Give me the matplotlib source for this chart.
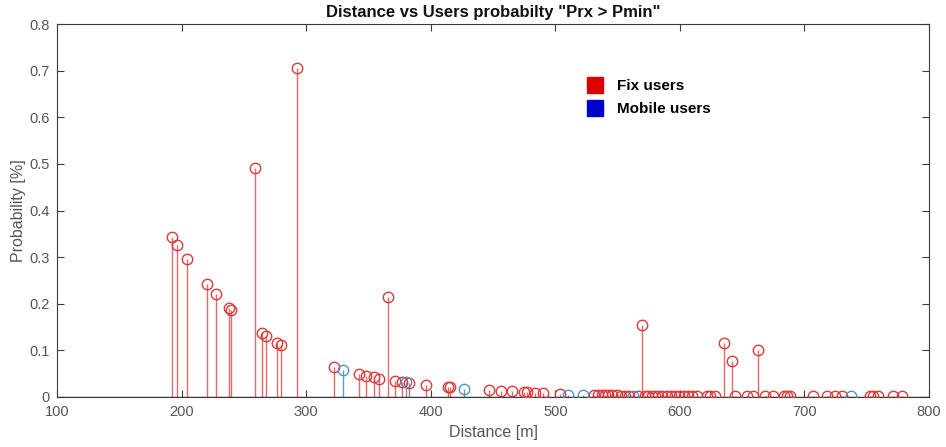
import matplotlib
matplotlib.use("Agg")
import matplotlib.pyplot as plt
from matplotlib.lines import Line2D

plt.rcParams['font.family'] = ['Liberation Sans', 'DejaVu Sans']

# Fixed users: distance [m] and probability
fix_dist = [192.1, 196.6, 204.1, 220.2, 227.4, 238.3, 239.9, 259.0, 264.8, 268.0,
            276.4, 280.0, 292.7, 322.4, 342.2, 347.8, 354.5, 358.7, 366.0, 371.1,
            377.0, 382.6, 396.2, 414.1, 415.5, 446.8, 456.3, 465.5, 475.0, 477.0,
            483.7, 490.4, 503.8, 531.3, 534.5, 537.2, 539.9, 542.5, 545.7, 549.3,
            552.8, 556.0, 559.2, 566.2, 569.4, 572.0, 574.7, 577.4, 580.0, 582.7,
            585.4, 589.4, 592.9, 596.1, 599.3, 603.6, 606.8, 609.5, 613.5, 621.6,
            624.2, 628.2, 635.5, 641.6, 644.3, 653.7, 659.0, 662.5, 668.3, 675.0,
            683.9, 685.8, 688.4, 707.1, 717.9, 724.5, 730.4, 752.6, 755.3, 759.3,
            771.4, 778.1]
fix_prob = [0.343, 0.325, 0.296, 0.242, 0.221, 0.191, 0.187, 0.491, 0.137, 0.131,
            0.116, 0.111, 0.706, 0.064, 0.050, 0.046, 0.042, 0.039, 0.215, 0.035,
            0.032, 0.030, 0.025, 0.021, 0.021, 0.014, 0.013, 0.012, 0.010, 0.010,
            0.009, 0.008, 0.006, 0.005, 0.005, 0.004, 0.004, 0.004, 0.004, 0.004,
            0.003, 0.003, 0.003, 0.003, 0.155, 0.003, 0.003, 0.003, 0.003, 0.003,
            0.003, 0.003, 0.002, 0.002, 0.002, 0.002, 0.002, 0.002, 0.002, 0.002,
            0.002, 0.002, 0.115, 0.077, 0.002, 0.002, 0.002, 0.101, 0.002, 0.002,
            0.002, 0.002, 0.002, 0.001, 0.001, 0.001, 0.001, 0.001, 0.001, 0.001,
            0.001, 0.001]

# Mobile users: distance [m] and probability
mob_dist = [329.6, 379.9, 426.7, 510.5, 522.5, 562.7, 737.4]
mob_prob = [0.058, 0.032, 0.017, 0.005, 0.004, 0.003, 0.001]

x_ticks = [100, 200, 300, 400, 500, 600, 700, 800]
y_ticks = [0, 0.1, 0.2, 0.3, 0.4, 0.5, 0.6, 0.7, 0.8]
y_tick_labels = ['0', '0.1', '0.2', '0.3', '0.4', '0.5', '0.6', '0.7', '0.8']

fix_stem = '#e46a6a'
fix_mark = '#dd3a3a'
mob_stem = '#5c9dcc'
mob_mark = '#4f93c8'
axis_col = '#3a3a3a'
text_col = '#555555'

fig = plt.figure(figsize=(9.46, 4.47), dpi=100)
ax = fig.add_axes([0.0603, 0.112, 0.9217, 0.834])

ax.vlines(fix_dist, 0, fix_prob, colors=fix_stem, linewidth=1.0, zorder=2)
ax.plot(fix_dist, fix_prob, linestyle='none', marker='o', markersize=7.5,
        markerfacecolor='none', markeredgecolor=fix_mark, markeredgewidth=1.0, zorder=3)
ax.vlines(mob_dist, 0, mob_prob, colors=mob_stem, linewidth=1.0, zorder=2)
ax.plot(mob_dist, mob_prob, linestyle='none', marker='o', markersize=7.5,
        markerfacecolor='none', markeredgecolor=mob_mark, markeredgewidth=1.0, zorder=3)
ax.axhline(0, color=axis_col, linewidth=1.0, zorder=4)

ax.set_xlim(100, 800)
ax.set_ylim(0, 0.8)
ax.set_xticks(x_ticks)
ax.set_yticks(y_ticks)
ax.set_yticklabels(y_tick_labels)
ax.tick_params(direction='in', top=True, right=True, length=5, width=0.8,
               color=axis_col, labelcolor=text_col, labelsize=10.5)
ax.tick_params(axis='x', pad=6)
ax.tick_params(axis='y', pad=5)
for s in ax.spines.values():
    s.set_color(axis_col)
    s.set_linewidth(0.8)

ax.set_title('Distance vs Users probabilty "Prx > Pmin"', fontsize=12,
             fontweight='bold', color='#111111', pad=5)
ax.set_xlabel('Distance [m]', fontsize=11.5, color=text_col, labelpad=4)
ax.set_ylabel('Probability [%]', fontsize=11.5, color=text_col, labelpad=3)

handles = [Line2D([], [], linestyle='none', marker='s', markersize=12,
                  markerfacecolor='#dd0000', markeredgecolor='#dd0000'),
           Line2D([], [], linestyle='none', marker='s', markersize=12,
                  markerfacecolor='#0000cc', markeredgecolor='#0000cc')]
leg = ax.legend(handles, ['Fix users', 'Mobile users'], loc='upper left',
                bbox_to_anchor=(0.584, 0.89), frameon=False, handletextpad=0.4,
                labelspacing=0.62, prop={'weight': 'bold', 'size': 11})

fig.savefig('out.png', dpi=100)
